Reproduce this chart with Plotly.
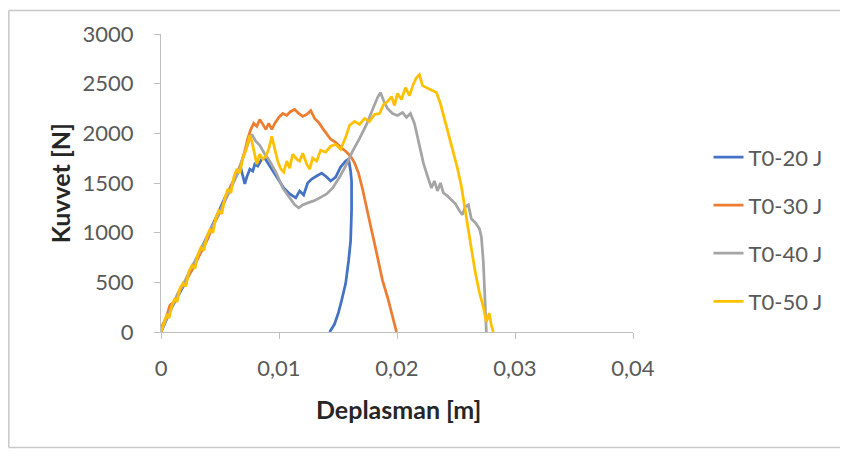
import plotly.graph_objects as go

# ---- data (displacement [m], force [N]) ----
t20_x = [0, 0.00093, 0.00203, 0.00288, 0.00372, 0.00457, 0.00541, 0.00600, 0.00651, 0.00677, 0.00693, 0.00710,
         0.00727, 0.00753, 0.00778, 0.00795, 0.00820, 0.00854, 0.00880, 0.00922, 0.00981, 0.01040, 0.01091,
         0.01142, 0.01175, 0.01209, 0.01243, 0.01277, 0.01319, 0.01362, 0.01404, 0.01438, 0.01480, 0.01522,
         0.01565, 0.01590, 0.01607, 0.01615, 0.01615, 0.01607, 0.01590, 0.01565, 0.01531, 0.01505, 0.01471, 0.01429]
t20_y = [0, 250, 490, 700, 910, 1130, 1350, 1490, 1600, 1650, 1570, 1490,
         1560, 1640, 1620, 1690, 1670, 1740, 1750, 1670, 1550, 1450, 1390,
         1350, 1420, 1380, 1500, 1540, 1570, 1600, 1560, 1520, 1560, 1660,
         1720, 1740, 1620, 1520, 1220, 920, 720, 490, 320, 200, 80, 0]

t30_x = [0, 0.00042, 0.00076, 0.00110, 0.00144, 0.00186, 0.00228, 0.00262, 0.00304, 0.00355, 0.00397, 0.00440,
         0.00490, 0.00533, 0.00584, 0.00634, 0.00677, 0.00710, 0.00736, 0.00761, 0.00786, 0.00812, 0.00837,
         0.00863, 0.00888, 0.00913, 0.00939, 0.00964, 0.00998, 0.01032, 0.01066, 0.01099, 0.01133, 0.01167,
         0.01201, 0.01235, 0.01269, 0.01302, 0.01336, 0.01370, 0.01404, 0.01438, 0.01480, 0.01522, 0.01565,
         0.01607, 0.01641, 0.01674, 0.01708, 0.01742, 0.01776, 0.01810, 0.01844, 0.01877, 0.01920, 0.01954, 0.01996]
t30_y = [40, 140, 270, 300, 390, 470, 560, 620, 720, 850, 940, 1070,
         1180, 1310, 1440, 1570, 1690, 1820, 1950, 2040, 2100, 2070, 2140,
         2090, 2040, 2100, 2040, 2100, 2160, 2200, 2180, 2220, 2240, 2200,
         2170, 2190, 2230, 2150, 2110, 2050, 1990, 1940, 1910, 1860, 1820,
         1770, 1700, 1600, 1440, 1270, 1070, 890, 700, 520, 350, 200, 0]

t40_x = [0, 0.00042, 0.00085, 0.00135, 0.00186, 0.00237, 0.00288, 0.00338, 0.00389, 0.00440, 0.00490, 0.00541,
         0.00592, 0.00643, 0.00685, 0.00719, 0.00753, 0.00770, 0.00803, 0.00837, 0.00880, 0.00922, 0.00981,
         0.01032, 0.01091, 0.01133, 0.01167, 0.01201, 0.01243, 0.01294, 0.01345, 0.01404, 0.01455, 0.01514,
         0.01573, 0.01624, 0.01683, 0.01742, 0.01793, 0.01835, 0.01860, 0.01886, 0.01920, 0.01962, 0.02004,
         0.02047, 0.02080, 0.02114, 0.02148, 0.02173, 0.02199, 0.02224, 0.02258, 0.02292, 0.02317, 0.02343,
         0.02368, 0.02393, 0.02427, 0.02461, 0.02495, 0.02529, 0.02554, 0.02579, 0.02605, 0.02630, 0.02664,
         0.02698, 0.02715, 0.02732, 0.02740, 0.02748, 0.02757]
t40_y = [0, 120, 240, 360, 470, 600, 710, 830, 950, 1070, 1200, 1320,
         1440, 1580, 1720, 1850, 1950, 1990, 1920, 1880, 1790, 1720, 1590,
         1450, 1350, 1280, 1250, 1280, 1300, 1320, 1350, 1390, 1450, 1560,
         1690, 1820, 1950, 2090, 2240, 2360, 2410, 2330, 2250, 2200, 2180,
         2210, 2160, 2200, 2100, 1960, 1830, 1700, 1570, 1450, 1520, 1420,
         1500, 1400, 1370, 1330, 1290, 1220, 1180, 1260, 1280, 1140, 1100,
         1040, 960, 700, 420, 170, 0]

t50_x = [0, 0.00025, 0.00051, 0.00068, 0.00093, 0.00118, 0.00135, 0.00161, 0.00186, 0.00211, 0.00237, 0.00262,
         0.00288, 0.00313, 0.00338, 0.00364, 0.00389, 0.00414, 0.00440, 0.00465, 0.00490, 0.00516, 0.00541,
         0.00567, 0.00592, 0.00617, 0.00643, 0.00668, 0.00693, 0.00719, 0.00736, 0.00753, 0.00770, 0.00795,
         0.00812, 0.00837, 0.00863, 0.00888, 0.00913, 0.00939, 0.00964, 0.00989, 0.01015, 0.01040, 0.01066,
         0.01091, 0.01116, 0.01150, 0.01175, 0.01201, 0.01235, 0.01260, 0.01285, 0.01319, 0.01353, 0.01395,
         0.01438, 0.01480, 0.01522, 0.01565, 0.01598, 0.01641, 0.01683, 0.01725, 0.01767, 0.01810, 0.01852,
         0.01886, 0.01920, 0.01954, 0.01979, 0.02004, 0.02038, 0.02072, 0.02106, 0.02140, 0.02165, 0.02190,
         0.02216, 0.02249, 0.02292, 0.02334, 0.02368, 0.02402, 0.02436, 0.02478, 0.02512, 0.02545, 0.02571,
         0.02596, 0.02630, 0.02664, 0.02698, 0.02732, 0.02757, 0.02782, 0.02799, 0.02816]
t50_y = [0, 100, 180, 140, 270, 340, 300, 440, 490, 460, 610, 670,
         640, 780, 850, 820, 960, 1030, 1000, 1150, 1220, 1190, 1350,
         1440, 1400, 1560, 1640, 1600, 1750, 1830, 1920, 1980, 1920, 1800,
         1690, 1790, 1740, 1770, 1840, 1970, 1840, 1720, 1640, 1610, 1720,
         1650, 1790, 1740, 1720, 1800, 1690, 1640, 1750, 1720, 1830, 1810,
         1870, 1890, 1840, 1960, 2080, 2120, 2090, 2150, 2120, 2190, 2200,
         2290, 2320, 2370, 2280, 2400, 2340, 2460, 2380, 2500, 2560, 2590,
         2480, 2460, 2440, 2410, 2300, 2150, 1990, 1820, 1650, 1470, 1270,
         1070, 840, 600, 400, 250, 100, 190, 70, 0]

series_names = ["T0-20 J", "T0-30 J", "T0-40 J", "T0-50 J"]
series_colors = ["#4472C4", "#ED7D31", "#A5A5A5", "#FFC000"]

x_tickvals = [0, 0.01, 0.02, 0.03, 0.04]
x_ticktext = ["0", "0,01", "0,02", "0,03", "0,04"]
y_tickvals = [0, 500, 1000, 1500, 2000, 2500, 3000]
y_ticktext = ["0", "500", "1000", "1500", "2000", "2500", "3000"]

FONT = "Lato"
TICK_COLOR = "#595959"
AXIS_COLOR = "#BFBFBF"
BORDER = dict(color="#C8C8C8", width=1.5)

fig = go.Figure()
for i, (xs, ys) in enumerate([(t20_x, t20_y), (t30_x, t30_y), (t40_x, t40_y), (t50_x, t50_y)]):
    fig.add_trace(go.Scatter(x=xs, y=ys, mode="lines", name=series_names[i],
                             legendgroup=series_names[i],
                             line=dict(color=series_colors[i], width=2.75)))

fig.update_layout(
    width=832, height=442,
    margin=dict(l=153, r=206, t=24, b=118),
    paper_bgcolor="white", plot_bgcolor="white",
    font=dict(family=FONT, size=22, color=TICK_COLOR),
    showlegend=True,
    legend=dict(x=1.16, y=0.657, xanchor="left", yanchor="top",
                font=dict(family=FONT, size=22, color=TICK_COLOR),
                tracegroupgap=16.5, bgcolor="rgba(0,0,0,0)"),
    xaxis=dict(range=[0, 0.04], tickvals=x_tickvals, ticktext=x_ticktext,
               showgrid=False, zeroline=False, showline=True, linecolor=AXIS_COLOR, linewidth=1,
               ticks="outside", ticklen=6, tickcolor=AXIS_COLOR,
               tickfont=dict(family=FONT, size=22, color=TICK_COLOR), ticklabelstandoff=11),
    yaxis=dict(range=[0, 3000], tickvals=y_tickvals, ticktext=y_ticktext,
               showgrid=False, zeroline=False, showline=True, linecolor=AXIS_COLOR, linewidth=1,
               ticks="outside", ticklen=6, tickcolor=AXIS_COLOR,
               tickfont=dict(family=FONT, size=22, color=TICK_COLOR), ticklabelstandoff=16),
    annotations=[
        dict(text="<b>Deplasman [m]</b>", xref="paper", yref="paper", x=0.504, y=-0.257,
             xanchor="center", yanchor="middle", showarrow=False,
             font=dict(family=FONT, size=25, color="#262626")),
        dict(text="<b>Kuvvet [N]</b>", xref="paper", yref="paper", x=-0.2135, y=0.5,
             xanchor="center", yanchor="middle", showarrow=False, textangle=-90,
             font=dict(family=FONT, size=25, color="#262626")),
    ],
    shapes=[
        dict(type="line", xref="paper", yref="paper", x0=-0.3225, x1=-0.3225, y0=-0.388, y1=1.0785, line=BORDER),
        dict(type="line", xref="paper", yref="paper", x0=-0.3225, x1=1.5, y0=1.0785, y1=1.0785, line=BORDER),
        dict(type="line", xref="paper", yref="paper", x0=-0.3225, x1=1.5, y0=-0.388, y1=-0.388, line=BORDER),
    ],
)

fig.write_html("out.html")
